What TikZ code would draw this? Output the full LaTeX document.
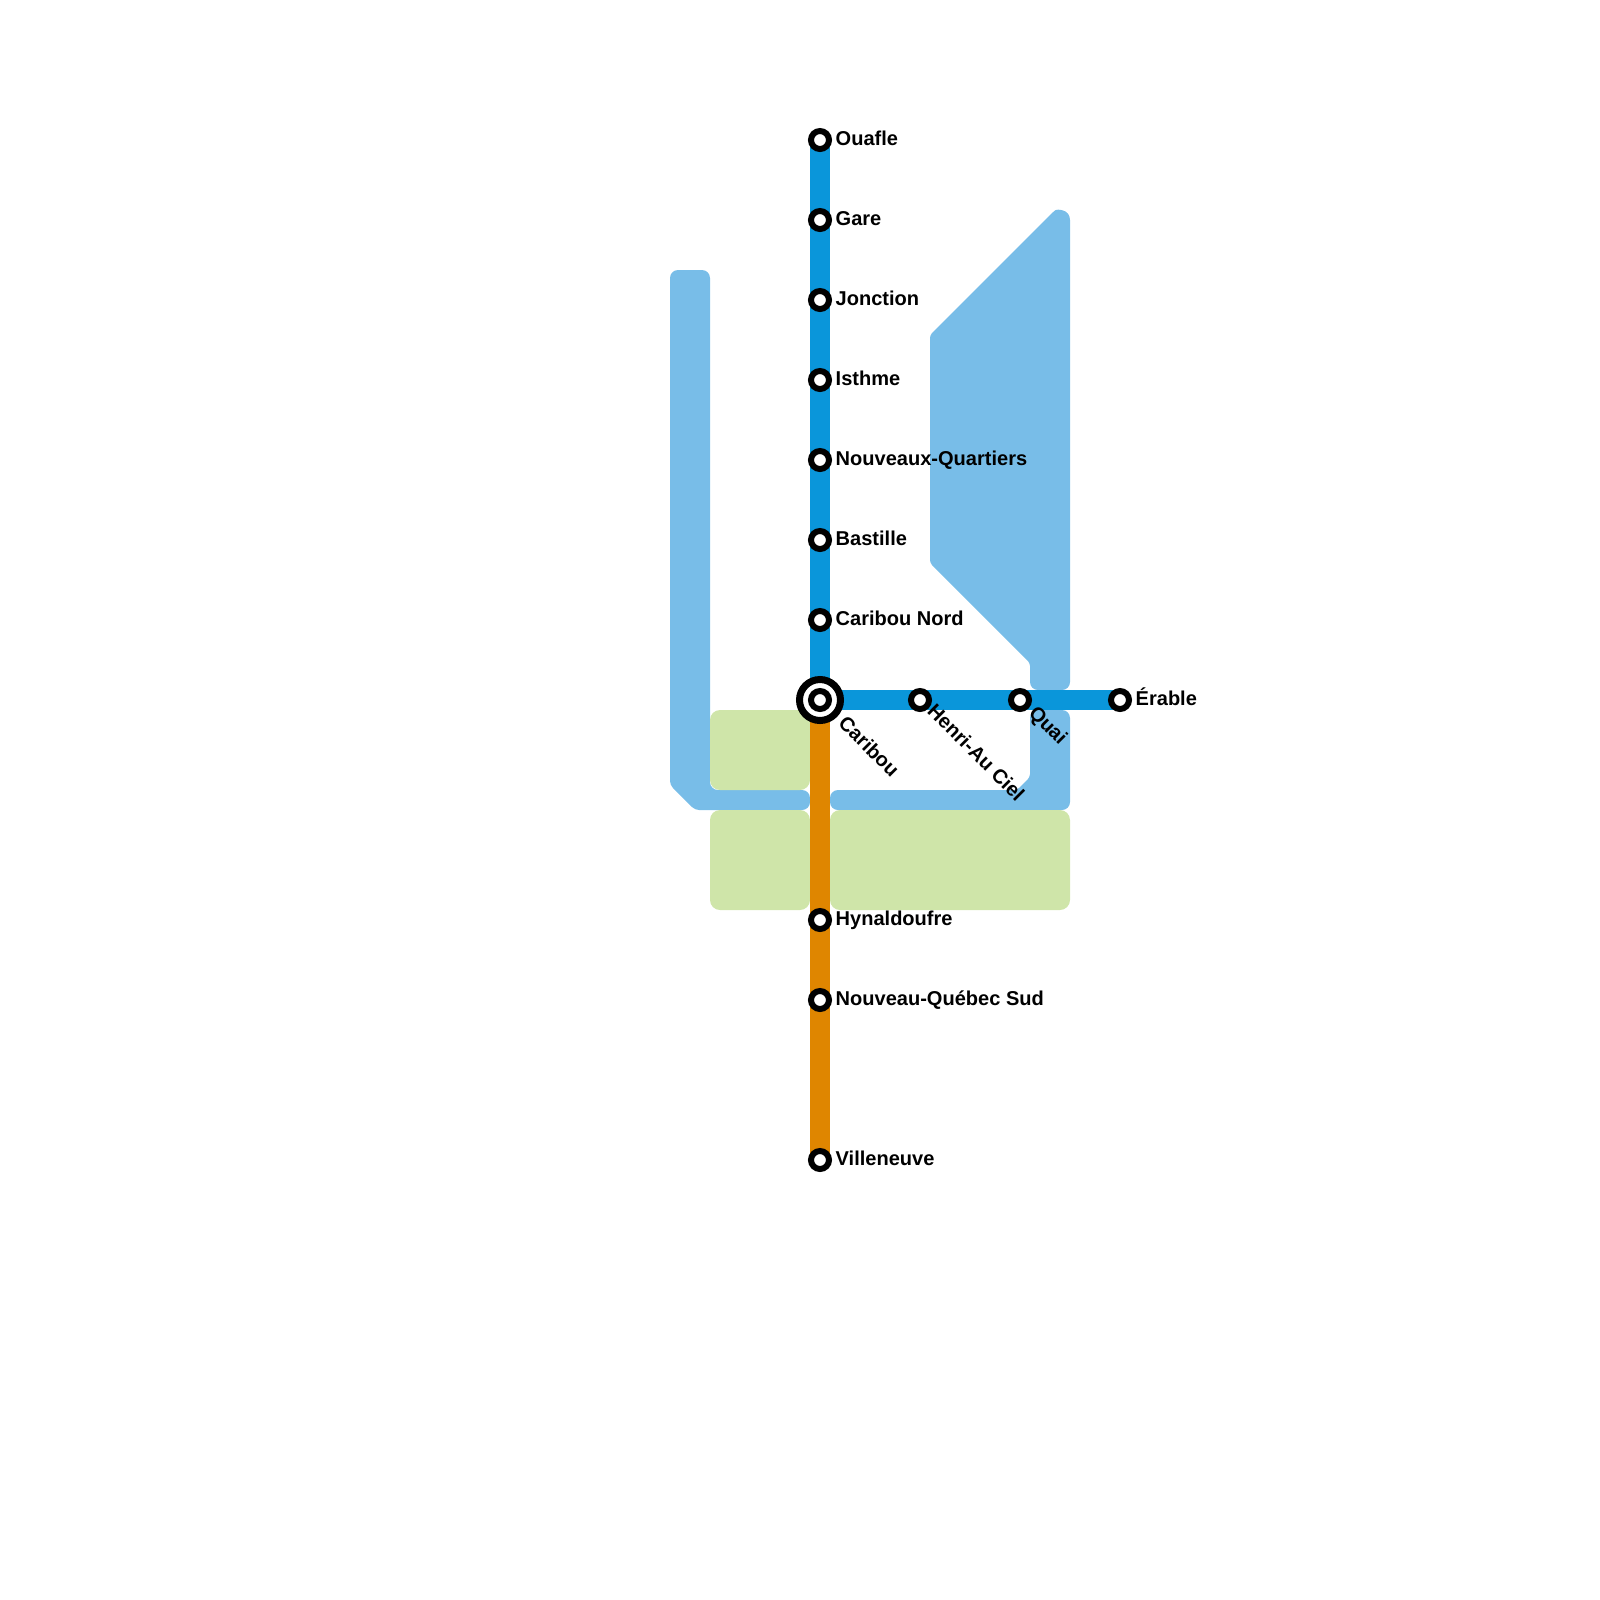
\documentclass[tikz,border=0pt]{standalone}
\usepackage{fontspec}
\setmainfont{Liberation Sans}
\usetikzlibrary{backgrounds}
\definecolor{waterblue}{HTML}{78BDE8}
\definecolor{parkgreen}{HTML}{CFE5A9}
\definecolor{lineblue}{HTML}{0A96DA}
\definecolor{lineorange}{HTML}{DF8600}
\tikzstyle{station} = [circle, draw=black, fill=white, line width=.06cm, inner sep=0pt, minimum size=.18cm]
\tikzstyle{hub} = [circle, draw=black, fill=white, line width=.07cm, inner sep=0pt, minimum size=.41cm]
\tikzstyle{stationname} = [anchor=base west, inner sep=0pt, font=\bfseries\fontsize{5.7}{6}\selectfont]
\tikzstyle{slantname} = [stationname, anchor=west, rotate=-45]
\tikzstyle{water} = [fill=waterblue, rounded corners=.08cm]
\tikzstyle{park} = [fill=parkgreen, rounded corners=.1cm]
\tikzstyle{metroline} = [line width=.2cm]

\begin{document}
\begin{tikzpicture}[x=.2cm, y=-.2cm]
       \useasboundingbox (0,0) rectangle (80,80);

       \node[station] (ouafle) at (41,7) {};
       \node[station] (gare) at (41,11) {};
       \node[station] (jonction) at (41,15) {};
       \node[station] (isthme) at (41,19) {};
       \node[station] (quartiers) at (41,23) {};
       \node[station] (bastille) at (41,27) {};
       \node[station] (cariboun) at (41,31) {};
       \node[hub] (caribou) at (41,35) {};
       \node[station] (caribouin) at (41,35) {};
       \node[station] (henri) at (46,35) {};
       \node[station] (quai) at (51,35) {};
       \node[station] (erable) at (56,35) {};
       \node[station] (hynald) at (41,46) {};
       \node[station] (quebec) at (41,50) {};
       \node[station] (villeneuve) at (41,58) {};

       \node[stationname] (ouaflet) at (41.75,7.26) {Ouafle};
       \node[stationname] (garet) at (41.75,11.26) {Gare};
       \node[stationname] (jonctiont) at (41.75,15.26) {Jonction};
       \node[stationname] (isthmet) at (41.75,19.26) {Isthme};
       \node[stationname] (quartierst) at (41.75,23.26) {Nouveaux-Quartiers};
       \node[stationname] (bastillet) at (41.75,27.26) {Bastille};
       \node[stationname] (caribount) at (41.75,31.26) {Caribou Nord};
       \node[stationname] (erablet) at (56.75,35.26) {Érable};
       \node[stationname] (hynaldt) at (41.75,46.26) {Hynaldoufre};
       \node[stationname] (quebect) at (41.75,50.26) {Nouveau-Québec Sud};
       \node[stationname] (villeneuvet) at (41.75,58.26) {Villeneuve};
       \node[slantname] (caribout) at (42.1,35.95) {Caribou};
       \node[slantname] (henrit) at (46.55,35.35) {Henri-Au Ciel};
       \node[slantname] (quait) at (51.55,35.5) {Quai};

       \begin{scope}[on background layer]
       % water
       \fill[water] (35.5,13.5) -- (35.5,39.5) -- (40.5,39.5) -- (40.5,40.5) [rounded corners=.04cm] -- (34.75,40.5) -- (33.5,39.25) [rounded corners=.08cm] -- (33.5,13.5) -- cycle;
       \fill[water] (53.5,11) -- (53.5,34.5) -- (51.5,34.5) [rounded corners=.03cm] -- (51.5,33.15) -- (46.5,28.15) -- (46.5,16.75) -- (52.65,10.6) [sharp corners] .. controls (52.85,10.45) and (53.5,10.45) .. (53.5,11) -- cycle;
       \fill[water] (41.5,39.5) [rounded corners=.03cm] -- (50.85,39.5) -- (51.5,38.85) [rounded corners=.08cm] -- (51.5,35.5) -- (53.5,35.5) -- (53.5,40.5) -- (41.5,40.5) -- cycle;
       % parks
       \fill[park] (35.5,35.5) rectangle (40.5,39.5);
       \fill[park] (35.5,40.5) rectangle (40.5,45.5);
       \fill[park] (41.5,40.5) rectangle (53.5,45.5);
       % lines
       \draw[metroline, lineblue] (ouafle.center) -- (caribou.center) -- (erable.center);
       \draw[metroline, lineorange] (caribou.center) -- (villeneuve.center);
       \end{scope}
\end{tikzpicture}
\end{document}
